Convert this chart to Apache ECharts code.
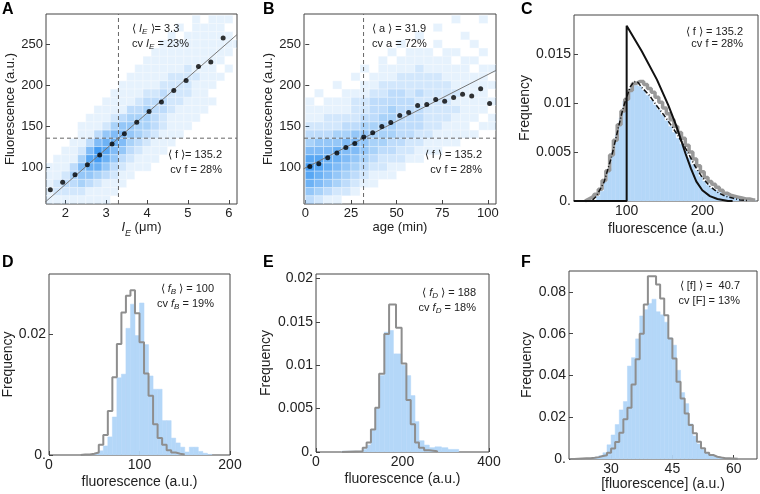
<!DOCTYPE html>
<html lang="en">

<head>
    <meta http-equiv="Content-Type" content="text/html;charset=UTF-8">
    <title>fluorescence panels</title>
    <script src="https://cdn.jsdelivr.net/npm/echarts/dist/echarts.min.js"></script>
    <style type="text/css">
        body {
            margin: 0;
            background: #fff;
        }

        #main {
            width: 760px;
            height: 494px;
        }
    </style>
</head>

<body>
    <div id="main"></div>
</body>
<script>
    var FONT = 'Liberation Sans';
    var BLUE = '#b4d7f8';
    var GRAY = '#8e8e8e';
    var INK = '#222';

    // ---- A : cell length vs fluorescence ----
    var meanLen = 3.3, cvLen = 23;
    var meanFluo = 135.2, cvFluo = 28;
    var lenX = [1.633, 1.935, 2.237, 2.539, 2.841, 3.143, 3.445, 3.747, 4.049, 4.351, 4.653, 4.955, 5.257, 5.559, 5.861];
    var lenF = [72.4, 81.4, 90.7, 102.8, 114.6, 128.0, 140.5, 154.7, 167.7, 179.4, 193.2, 205.4, 222.4, 228.1, 257.3];
    var lenFitX = [1.5, 6.2];
    var lenFitF = [57.0, 261.4];
    var lenTicks = [2, 3, 4, 5, 6];
    var fluoTicks = [100, 150, 200, 250];
    // counts (0-9), rows from f 275-285 down to f 55-65, columns of 0.2 um from 1.5
    var lenHeat = [
        '000000000000000000101110',
        '000000000000000010111100',
        '000000000000000101111110',
        '000000000000001111111111',
        '000000000000011111111110',
        '000000000000111111111100',
        '000000000001111112111010',
        '000000000011111222211100',
        '000000000111112222111000',
        '000000001111223222110000',
        '000000011112333221111000',
        '000000111133433211110000',
        '000001112344432111100000',
        '000011124554432111000000',
        '000011356654321110000000',
        '000113677643211100000000',
        '001126986532111000000000',
        '011148975321110000000000',
        '111367753211100000000000',
        '112455432110000000000000',
        '123343211100000000000000',
        '122221111000000000000000',
        '111111110000000000000000'
    ];

    // ---- B : cell age vs fluorescence ----
    var meanAge = 31.9, cvAge = 72;
    var ageX = [2.5, 7.4, 12.3, 17.3, 22.2, 27.1, 32.0, 36.9, 41.9, 46.8, 51.7, 56.6, 61.5, 66.5, 71.4, 76.3, 81.2, 86.1, 91.1, 96.0, 100.9];
    var ageF = [100.8, 104.0, 111.4, 117.0, 123.9, 128.8, 136.5, 141.8, 149.5, 154.3, 162.8, 166.5, 175.0, 176.2, 182.3, 180.3, 184.7, 188.8, 186.7, 195.3, 177.4];
    var ageFitX = [-1, 104.5];
    var ageFitF = [97.7, 217.9];
    var ageTicks = [0, 25, 50, 75, 100];
    // rows from f 275-285 down to f 55-65, columns of 5 min from 0
    var ageHeat = [
        '000000000000000010010',
        '000000000000001000000',
        '000000000000100001000',
        '000000000010001000100',
        '000000000101110110010',
        '000000001011111101100',
        '000000101111211111011',
        '000001011122222111110',
        '000100112222222211111',
        '010011122332322221110',
        '101112233333222211111',
        '111112233433322221110',
        '112222334433322211101',
        '222233444433322111011',
        '333445544433221111100',
        '455566544332211110000',
        '666766543322111000000',
        '887765432221100000000',
        '987654322110000000000',
        '876543211100000000000',
        '765432110000000000000',
        '543221000000000000000',
        '321100000000000000000'
    ];

    // ---- C : fluorescence distribution ----
    var cBlueStart = 60, cBlueW = 5;
    var cBlue = [0.0005, 0.001, 0.002, 0.0033, 0.005, 0.0068, 0.0085, 0.0102, 0.0112, 0.0116, 0.0118, 0.0117, 0.0113, 0.0108,
        0.0103, 0.0098, 0.0093, 0.0088, 0.0082, 0.0076, 0.007, 0.0064, 0.0058, 0.0051, 0.0044, 0.0037, 0.0031, 0.0025,
        0.002, 0.0016, 0.0013, 0.0011, 0.0009, 0.0007, 0.0006, 0.0005, 0.0004, 0.0004, 0.0003, 0.0002, 0.0001, 0.0001];
    var cGrayStart = 45, cGrayStep = 5;
    var cGray = [0, 0.0002, 0.0004, 0.0007, 0.0012, 0.0021, 0.0031, 0.0047, 0.0062, 0.0078, 0.0092, 0.0104, 0.0113, 0.012,
        0.0122, 0.0122, 0.0119, 0.0115, 0.0111, 0.0106, 0.0101, 0.0095, 0.0089, 0.0083, 0.0076, 0.007, 0.0064, 0.0057,
        0.005, 0.0043, 0.0036, 0.003, 0.0024, 0.002, 0.0017, 0.0014, 0.0011, 0.0008, 0.0006, 0.0005, 0.0004, 0.0003,
        0.0002, 0.0002, 0.0001, 0.0001];
    var cDashX = [55, 60, 70, 80, 90, 95, 100, 105, 110, 115, 120, 130, 140, 150, 160, 170, 180, 190, 200, 210, 220, 230, 240, 250, 260];
    var cDashY = [0.0001, 0.0005, 0.0019, 0.0045, 0.0078, 0.0094, 0.0106, 0.0117, 0.0122, 0.0121, 0.0116, 0.0108, 0.0097,
        0.0087, 0.0076, 0.0064, 0.0051, 0.0036, 0.0024, 0.0015, 0.0009, 0.0005, 0.0003, 0.0001, 0.00005];
    var cTheoryX = [30, 100, 100, 120, 140, 155, 165, 172, 178, 185, 192, 200, 210, 220, 234, 240];
    var cTheoryY = [0, 0, 0.0179, 0.0153, 0.0124, 0.0098, 0.0078, 0.0062, 0.0048, 0.0033, 0.002, 0.0011, 0.0005, 0.0002, 0, 0];

    // ---- D : birth fluorescence ----
    var dBinW = 5;
    var dBlueStart = 50;
    var dBlue = [0.0002, 0.0007, 0.0015, 0.003, 0.0063, 0.0128, 0.0134, 0.021, 0.025, 0.0198, 0.0252, 0.0183, 0.0131,
        0.0109, 0.0109, 0.0057, 0.0057, 0.0028, 0.002, 0.0013, 0.0005, 0.0013, 0.0013, 0.0006, 0.0003, 0.0001];
    var dGrayStart = 35;
    var dGray = [0.0001, 0.0001, 0.0002, 0.0004, 0.0017, 0.0033, 0.0073, 0.0129, 0.0184, 0.0236, 0.0264, 0.0273, 0.0235,
        0.0187, 0.0135, 0.0098, 0.0051, 0.0028, 0.0017, 0.0008, 0.0004, 0.0002, 0.0001];

    // ---- E : division fluorescence ----
    var eBlueEdges = [60, 108, 117, 127, 137, 146, 158, 169, 179, 185, 198, 209, 219, 229, 238, 250, 262, 275, 290, 305, 330];
    var eBlue = [0.0001, 0.0003, 0.0008, 0.0025, 0.005, 0.0088, 0.0138, 0.014, 0.0113, 0.0113, 0.01, 0.0088, 0.0065,
        0.0035, 0.0013, 0.0008, 0.0005, 0.0006, 0.0005, 0.0003];
    var eGrayEdges = [60, 108, 117, 127, 137, 146, 158, 169, 185, 198, 209, 219, 229, 238, 250, 262, 280];
    var eGray = [0.0001, 0.0005, 0.0011, 0.0026, 0.0051, 0.009, 0.0136, 0.017, 0.0143, 0.0102, 0.006, 0.0032, 0.0011,
        0.0005, 0.0002, 0.0001];

    // ---- F : concentration ----
    var fStart = 20, fBinW = 1;
    var fBlue = [0, 0.0001, 0.0001, 0.0002, 0.0003, 0.0005, 0.0009, 0.0016, 0.003, 0.0068, 0.0115, 0.0165, 0.0235, 0.0275,
        0.0445, 0.0485, 0.0575, 0.0685, 0.0715, 0.0745, 0.0765, 0.0705, 0.069, 0.0655, 0.058, 0.0545, 0.0425, 0.0318,
        0.0265, 0.0168, 0.011, 0.0072, 0.0046, 0.003, 0.0019, 0.0013, 0.0008, 0.0005, 0.0003, 0.0002, 0.0001];
    var fGray = [0, 0.0001, 0.0002, 0.0003, 0.0004, 0.0006, 0.0009, 0.0014, 0.0018, 0.003, 0.005, 0.0081, 0.0126, 0.019,
        0.0245, 0.0357, 0.0477, 0.06, 0.074, 0.0875, 0.0875, 0.0835, 0.0768, 0.0688, 0.0577, 0.0481, 0.037, 0.029,
        0.0218, 0.0163, 0.0123, 0.0083, 0.0051, 0.003, 0.0019, 0.0011, 0.0007, 0.0004, 0.0003, 0.0002, 0.0001];

    // ---------- helpers ----------
    function zip(xs, ys) {
        return xs.map(function (x, i) { return [x, ys[i]]; });
    }

    function heatCells(rows, x0, dx, y0, dy) {
        var out = [];
        var n = rows.length;
        for (var r = 0; r < n; r++) {
            var yLow = y0 + (n - 1 - r) * dy;
            for (var c = 0; c < rows[r].length; c++) {
                var v = +rows[r].charAt(c);
                if (v > 0) out.push([x0 + c * dx, yLow, v]);
            }
        }
        return out;
    }

    function binsUniform(start, w, vals) {
        return vals.map(function (v, i) { return [start + i * w, start + (i + 1) * w, v]; });
    }

    function binsEdges(edges, vals) {
        return vals.map(function (v, i) { return [edges[i], edges[i + 1], v]; });
    }

    function outline(bins) {
        var pts = [[bins[0][0], 0]];
        bins.forEach(function (b) {
            pts.push([b[0], b[2]], [b[1], b[2]]);
        });
        pts.push([bins[bins.length - 1][1], 0]);
        return pts;
    }

    function heatSeries(idx, cells, dx, dy) {
        return {
            type: 'custom', xAxisIndex: idx, yAxisIndex: idx, clip: true, silent: true, z: 1,
            data: cells,
            renderItem: function (params, api) {
                var p0 = api.coord([api.value(0), api.value(1) + dy]);
                var p1 = api.coord([api.value(0) + dx, api.value(1)]);
                var a = 0.02 + 0.09 * api.value(2);
                return {
                    type: 'rect',
                    shape: { x: p0[0], y: p0[1], width: p1[0] - p0[0], height: p1[1] - p0[1] },
                    style: { fill: 'rgba(30,136,240,' + a + ')', stroke: 'rgba(255,255,255,0.55)', lineWidth: 0.6 }
                };
            }
        };
    }

    function barSeries(idx, bins) {
        return {
            type: 'custom', xAxisIndex: idx, yAxisIndex: idx, clip: true, silent: true, z: 1,
            data: bins,
            renderItem: function (params, api) {
                var a = api.coord([api.value(0), api.value(2)]);
                var b = api.coord([api.value(1), 0]);
                return {
                    type: 'rect',
                    shape: { x: a[0], y: a[1], width: b[0] - a[0], height: b[1] - a[1] },
                    style: { fill: BLUE, stroke: BLUE, lineWidth: 0.5 }
                };
            }
        };
    }

    function lineSeries(idx, pts, style, z, step) {
        return {
            type: 'line', xAxisIndex: idx, yAxisIndex: idx, data: pts, step: step || false,
            showSymbol: false, symbol: 'none', silent: true, clip: true, z: z || 3, lineStyle: style
        };
    }

    var richAxis = {
        n: { fontSize: 13, fontFamily: FONT, color: INK },
        i: { fontSize: 13, fontFamily: FONT, fontStyle: 'italic', color: INK },
        s: { fontSize: 9, fontFamily: FONT, fontStyle: 'italic', color: INK, verticalAlign: 'bottom', padding: [0, 0, -4, 0] }
    };

    function richNote(lh) {
        return {
            n: { fontSize: 11, fontFamily: FONT, fill: INK, lineHeight: lh },
            i: { fontSize: 11, fontFamily: FONT, fill: INK, fontStyle: 'italic', lineHeight: lh },
            s: { fontSize: 8, fontFamily: FONT, fill: INK, fontStyle: 'italic', lineHeight: lh, verticalAlign: 'bottom' }
        };
    }

    function axis(grid, min, max, ticks, name, gap, nameSize, dot, tickSize) {
        return {
            type: 'value', gridIndex: grid, min: min, max: max,
            axisLine: { show: false },
            axisTick: { show: true, inside: true, length: 4, customValues: ticks, lineStyle: { color: '#444' } },
            axisLabel: {
                customValues: ticks, margin: 3, color: INK, fontFamily: FONT, fontSize: tickSize || 13,
                formatter: function (v) { return (v === 0 && dot) ? '0.' : String(v); }
            },
            splitLine: { show: false },
            name: name, nameLocation: 'middle', nameGap: gap,
            nameTextStyle: { color: INK, fontFamily: FONT, fontSize: nameSize, rich: richAxis }
        };
    }

    function note(x, y, align, text, lh) {
        return {
            type: 'text', x: x, y: y, z: 100,
            style: {
                text: text, rich: richNote(lh), fill: INK, fontSize: 11, fontFamily: FONT,
                align: align, textAlign: align, verticalAlign: 'top', textVerticalAlign: 'top'
            }
        };
    }

    function letter(x, y, t) {
        return {
            type: 'text', x: x, y: y, z: 100,
            style: { text: t, fill: '#000', font: 'bold 16px ' + FONT, verticalAlign: 'top', textVerticalAlign: 'top' }
        };
    }

    // ---------- ranges ----------
    var fMin = 55, fMax = 286.5;

    var gridBox = function (l, t, w, h) {
        return { left: l, top: t, width: w, height: h, show: true, borderColor: '#444', borderWidth: 1, outerBoundsMode: 'none' };
    };

    option = {
        animation: false,
        backgroundColor: '#fff',
        grid: [
            gridBox(46, 14, 191, 190),
            gridBox(304, 14, 192, 190),
            gridBox(574, 15, 184, 186),
            gridBox(49, 274, 181, 181),
            gridBox(316, 274, 173, 178),
            gridBox(569, 271, 188, 188)
        ],
        xAxis: [
            axis(0, 1.527, 6.2, lenTicks, '{i|I}{s|E}{n| (μm)}', 17, 13, false, 13),
            axis(1, -0.7, 104.4, ageTicks, 'age (min)', 17, 13, false, 13),
            axis(2, 30.4, 273.6, [100, 200], 'fluorescence (a.u.)', 21, 14, false, 14),
            axis(3, 0, 200, [0, 100, 200], 'fluorescence (a.u.)', 20, 14, false, 14),
            axis(4, 0, 400, [0, 200, 400], 'fluorescence (a.u.)', 20, 14, false, 14),
            axis(5, 19.7, 65.7, [30, 45, 60], '[fluorescence] (a.u.)', 18, 14, false, 14)
        ],
        yAxis: [
            axis(0, fMin, fMax, fluoTicks, 'Fluorescence (a.u.)', 29, 13, true, 13),
            axis(1, fMin, fMax, fluoTicks, 'Fluorescence (a.u.)', 29, 13, true, 13),
            axis(2, 0, 0.019, [0, 0.005, 0.01, 0.015], 'Frequency', 41, 14, true, 14),
            axis(3, 0, 0.03, [0, 0.02], 'Frequency', 34, 14, true, 14),
            axis(4, 0, 0.0205, [0, 0.005, 0.01, 0.015, 0.02], 'Frequency', 43, 14, true, 14),
            axis(5, 0, 0.09, [0, 0.02, 0.04, 0.06, 0.08], 'Frequency', 35, 14, true, 14)
        ],
        series: [
            // A
            heatSeries(0, heatCells(lenHeat, 1.5, 0.2, 55, 10), 0.2, 10),
            lineSeries(0, [[meanLen, fMin], [meanLen, fMax]], { color: '#666', width: 1, type: [4, 3] }, 2),
            lineSeries(0, [[1.527, meanFluo], [6.2, meanFluo]], { color: '#666', width: 1, type: [4, 3] }, 2),
            lineSeries(0, zip(lenFitX, lenFitF), { color: '#777', width: 1 }, 3),
            { type: 'scatter', xAxisIndex: 0, yAxisIndex: 0, data: zip(lenX, lenF), symbolSize: 5, itemStyle: { color: '#000' }, z: 4, silent: true },
            // B
            heatSeries(1, heatCells(ageHeat, 0, 5, 55, 10), 5, 10),
            lineSeries(1, [[meanAge, fMin], [meanAge, fMax]], { color: '#666', width: 1, type: [4, 3] }, 2),
            lineSeries(1, [[-0.7, meanFluo], [104.4, meanFluo]], { color: '#666', width: 1, type: [4, 3] }, 2),
            lineSeries(1, zip(ageFitX, ageFitF), { color: '#777', width: 1 }, 3),
            { type: 'scatter', xAxisIndex: 1, yAxisIndex: 1, data: zip(ageX, ageF), symbolSize: 5, itemStyle: { color: '#000' }, z: 4, silent: true },
            // C
            barSeries(2, binsUniform(cBlueStart, cBlueW, cBlue)),
            lineSeries(2, cGray.map(function (v, i) { return [cGrayStart + i * cGrayStep, v]; }), { color: '#999', width: 3.5 }, 3, 'middle'),
            lineSeries(2, zip(cDashX, cDashY), { color: '#111', width: 1.5, type: [5, 2, 1, 2] }, 4),
            lineSeries(2, zip(cTheoryX, cTheoryY), { color: '#111', width: 2 }, 5),
            // D
            barSeries(3, binsUniform(dBlueStart, dBinW, dBlue)),
            lineSeries(3, outline(binsUniform(dGrayStart, dBinW, dGray)), { color: GRAY, width: 2 }, 3),
            // E
            barSeries(4, binsEdges(eBlueEdges, eBlue)),
            lineSeries(4, outline(binsEdges(eGrayEdges, eGray)), { color: GRAY, width: 2 }, 3),
            // F
            barSeries(5, binsUniform(fStart, fBinW, fBlue)),
            lineSeries(5, outline(binsUniform(fStart, fBinW, fGray)), { color: GRAY, width: 2 }, 3)
        ],
        graphic: [
            letter(2, 2, 'A'), letter(263, 2, 'B'), letter(521, 2, 'C'),
            letter(2, 255, 'D'), letter(263, 255, 'E'), letter(521, 255, 'F'),
            note(132, 21, 'left', '{n|⟨ }{i|I}{s|E}{n| ⟩= ' + meanLen + '}\n{n|cv }{i|I}{s|E}{n| = ' + cvLen + '%}', 15),
            note(222, 147, 'right', '{n|⟨ f ⟩= ' + meanFluo + '}\n{n|cv f = ' + cvFluo + '%}', 15),
            note(372, 21, 'left', '{n|⟨ a ⟩ = ' + meanAge + '}\n{n|cv a = ' + cvAge + '%}', 15),
            note(482, 147, 'right', '{n|⟨ f ⟩ = ' + meanFluo + '}\n{n|cv f = ' + cvFluo + '%}', 15),
            note(743, 26, 'right', '{n|⟨ f ⟩ = ' + meanFluo + '}\n{n|cv f = ' + cvFluo + '%}', 12),
            note(214, 281, 'right', '{n|⟨ }{i|f}{s|B}{n| ⟩ = 100}\n{n|cv }{i|f}{s|B}{n| = 19%}', 15),
            note(476, 285, 'right', '{n|⟨ }{i|f}{s|D}{n| ⟩ = 188}\n{n|cv }{i|f}{s|D}{n| = 18%}', 15),
            note(740, 278, 'right', '{n|⟨ [f] ⟩ =  40.7}\n{n|cv [F] = 13%}', 15)
        ]
    };

    var myChart = echarts.init(document.getElementById('main'));
    myChart.setOption(option);
</script>

</html>
